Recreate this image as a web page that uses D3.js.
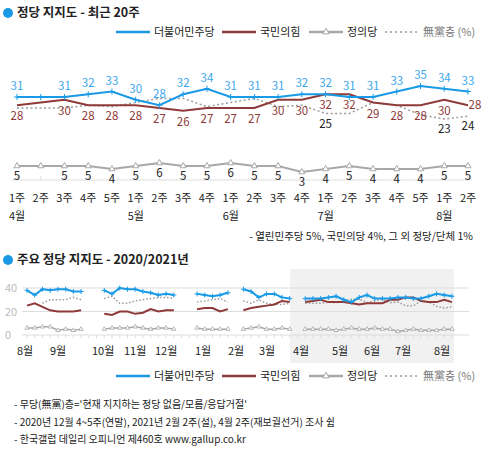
<!DOCTYPE html>
<html><head><meta charset="utf-8">
<script src="https://cdn.jsdelivr.net/npm/d3@7"></script>
<style>
body{margin:0;background:#fff}
text{font-family:"Noto Sans CJK KR","Noto Sans",sans-serif}
</style></head>
<body><svg width="489" height="452"></svg>
<script>
// recent 20 weeks
const weeks = ['1주','2주','3주','4주','5주','1주','2주','3주','4주','1주','2주','3주','4주','1주','2주','3주','4주','5주','1주','2주'];
const months = [{m:'4월',i:0},{m:'5월',i:5},{m:'6월',i:9},{m:'7월',i:13},{m:'8월',i:18}];
const minju = [31,31,31,32,33,30,28,32,34,31,31,31,32,32,31,31,33,35,34,33];
const gukmin = [28,29,30,28,28,28,27,26,27,27,27,30,30,32,32,29,28,28,30,28];
const mudang = [27,27,27,28,27.5,29,30.5,30.5,27.5,29,30.5,27.5,28,25,25,29,28,24.5,23,24];
const jeongui = [5,5,5,5,4,5,6,5,5,6,5,5,3,4,5,4,4,4,5,5];
const minjuLbl = [true,false,true,true,true,true,true,true,true,true,true,true,true,true,true,true,true,true,true,true];
const gukminLbl = [true,false,true,true,true,true,true,true,true,true,true,true,true,true,true,true,true,true,true,true];
const mudangLbl = [13,18,19];
const jeonguiLbl = [true,false,true,true,true,true,true,true,true,true,true,true,true,true,true,true,true,true,true,true];

// 2020/2021 long series (null = no survey)
const N = null;
const minjuLong = [38,34,39,38,39,39,37,37,N,N,38,35,40,39,39,37,36,34,35,34,N,N,35,34,33,34,36,N,39,37,32,35,35,32,31,N].concat(minju);
const gukminLong = [25,27,24,21,20,20,20,21,N,N,18,17,20,20,18,19,22,20,21,21,N,N,22,23,23,20,22,N,21,23,24,25,26,29,28,N].concat(gukmin);
const mudangLong = [N,N,27,30,30,30,32,30,N,N,31,33,27,27,29,30,31,32,32,31,N,N,28,29,30,31,28,N,29,27,30,27,26,26,27,N].concat(mudang);
const jeonguiLong = [6,6,7,7,4,5,4,5,N,N,5,6,6,6,7,6,5,6,6,5,N,N,6,5,5,5,5,N,5,6,7,5,5,6,5,N].concat(jeongui);
const longMonths = [{m:'8월',x:25},{m:'9월',x:58},{m:'10월',x:100},{m:'11월',x:132},{m:'12월',x:163},{m:'1월',x:203},{m:'2월',x:236},{m:'3월',x:267},{m:'4월',x:301},{m:'5월',x:340},{m:'6월',x:372},{m:'7월',x:403},{m:'8월',x:442}];
const yTicks = [0,20,40];

const C = {blue:'#1a9ae6', red:'#8e3a38', gray:'#a8a8a8', dot:'#9a9a9a'};
const svg = d3.select('svg');

function bullet(y, txt){
  svg.append('circle').attr('cx',8).attr('cy',y-4).attr('r',5).attr('fill',C.blue);
  svg.append('text').attr('x',17).attr('y',y).attr('font-size',12.5).attr('font-weight','bold').attr('fill','#222').text(txt);
}
function legend(y, marker){
  const items = [['더불어민주당',C.blue,null,'+'],['국민의힘',C.red,null,null],['정의당',C.gray,null,'tri'],['無黨층 (%)',C.dot,'2,3',null]];
  const xs = marker ? [116,222,309,385] : [120,226,313,390];
  items.forEach((d,i)=>{
    const g = svg.append('g').attr('transform',`translate(${xs[i]},${y})`);
    g.append('line').attr('x1',0).attr('x2',34).attr('stroke',d[1]).attr('stroke-width',d[2]?1.5:2.5).attr('stroke-dasharray',d[2]);
    if(d[3]==='tri') g.append('path').attr('d',d3.symbol(d3.symbolTriangle,18)()).attr('fill','#fff').attr('stroke',d[1]).attr('transform','translate(17,0)');
    g.append('text').attr('x',38).attr('y',4).attr('font-size',11).attr('fill',d[2]?'#777':'#222').text(d[0]);
  });
}

// ---- top chart ----
bullet(17,'정당 지지도 - 최근 20주');
legend(32,true);
const x = d3.scaleLinear().domain([0,19]).range([17,468]);
const y = d3.scaleLinear().domain([23,35]).range([119,86]);
const yj = d3.scaleLinear().domain([3,6]).range([172,163]);
const line = (ys)=>d3.line().x((d,i)=>x(i)).y(d=>ys(d));

svg.append('path').attr('d',line(y)(mudang)).attr('fill','none').attr('stroke',C.dot).attr('stroke-width',1.5).attr('stroke-dasharray','2,2.5');
svg.append('path').attr('d',line(y)(gukmin)).attr('fill','none').attr('stroke',C.red).attr('stroke-width',2);
svg.append('path').attr('d',line(y)(minju)).attr('fill','none').attr('stroke',C.blue).attr('stroke-width',2);
minju.forEach((v,i)=>{
  svg.append('path').attr('d',`M${x(i)-3},${y(v)}h6M${x(i)},${y(v)-3}v6`).attr('stroke',C.blue).attr('stroke-width',1);
});
const lab = (xx,yy,t,c)=>svg.append('text').attr('x',xx).attr('y',yy).attr('text-anchor','middle').attr('font-size',11.5).attr('fill',c).text(t);
minju.forEach((v,i)=>{ if(minjuLbl[i]) lab(x(i),y(v)-7,v,'#3aa6ee'); });
gukmin.forEach((v,i)=>{ if(gukminLbl[i]) lab(x(i)+(i===19?7:0),y(v)+(i===19?4:15),v,C.red); });
mudangLbl.forEach(i=>lab(x(i),y(mudang[i])+14,mudang[i],'#222'));

svg.append('line').attr('x1',12).attr('x2',472).attr('y1',180).attr('y2',180).attr('stroke','#ddd');
weeks.forEach((w,i)=>{
  svg.append('line').attr('x1',x(i)).attr('x2',x(i)).attr('y1',176).attr('y2',180).attr('stroke','#ddd');
  svg.append('text').attr('x',x(i)).attr('y',202).attr('text-anchor','middle').attr('font-size',11).attr('fill','#222').text(w);
});
months.forEach(d=>svg.append('text').attr('x',x(d.i)-8).attr('y',220).attr('font-size',11).attr('fill','#222').text(d.m));
svg.append('path').attr('d',line(yj)(jeongui)).attr('fill','none').attr('stroke',C.gray).attr('stroke-width',2);
jeongui.forEach((v,i)=>{
  svg.append('path').attr('d',d3.symbol(d3.symbolTriangle,16)()).attr('transform',`translate(${x(i)},${yj(v)})`).attr('fill','#fff').attr('stroke',C.gray);
  if(jeonguiLbl[i]) lab(x(i),yj(v)+14,v,'#222');
});
svg.append('text').attr('x',473).attr('y',240).attr('text-anchor','end').attr('font-size',10.5).attr('fill','#222').text('- 열린민주당 5%, 국민의당 4%, 그 외 정당/단체 1%');

// ---- bottom chart ----
bullet(264,'주요 정당 지지도 - 2020/2021년');
const x2 = d3.scaleLinear().domain([0,55]).range([27,452]);
const y2 = d3.scaleLinear().domain([0,40]).range([335,288]);
svg.append('rect').attr('x',290).attr('y',269).attr('width',164).attr('height',94).attr('fill','#f1f1f1');
yTicks.forEach(t=>{
  svg.append('line').attr('x1',22).attr('x2',469).attr('y1',y2(t)).attr('y2',y2(t)).attr('stroke','#ddd');
  svg.append('text').attr('x',5).attr('y',y2(t)+4).attr('font-size',11).attr('fill','#bbb').text(t);
});
for(let i=0;i<=55;i++) svg.append('line').attr('x1',x2(i)).attr('x2',x2(i)).attr('y1',335).attr('y2',338).attr('stroke','#ddd');
const l2 = d3.line().defined(d=>d!==null).x((d,i)=>x2(i)).y(d=>y2(d));
svg.append('path').attr('d',l2(mudangLong)).attr('fill','none').attr('stroke',C.dot).attr('stroke-width',1.5).attr('stroke-dasharray','1.5,2');
svg.append('path').attr('d',l2(jeonguiLong)).attr('fill','none').attr('stroke',C.gray).attr('stroke-width',1.5);
jeonguiLong.forEach((v,i)=>{ if(v!==null) svg.append('path').attr('d',d3.symbol(d3.symbolTriangle,8)()).attr('transform',`translate(${x2(i)},${y2(v)})`).attr('fill','#fff').attr('stroke',C.gray).attr('stroke-width',0.8); });
svg.append('path').attr('d',l2(gukminLong)).attr('fill','none').attr('stroke',C.red).attr('stroke-width',2);
svg.append('path').attr('d',l2(minjuLong)).attr('fill','none').attr('stroke',C.blue).attr('stroke-width',2);
minjuLong.forEach((v,i)=>{ if(v!==null) svg.append('path').attr('d',`M${x2(i)-2.5},${y2(v)}h5M${x2(i)},${y2(v)-2.5}v5`).attr('stroke',C.blue).attr('stroke-width',1); });
longMonths.forEach(d=>svg.append('text').attr('x',d.x-8).attr('y',355).attr('font-size',11).attr('fill','#222').text(d.m));
legend(376,true);
['- 무당(無黨)층=\'현재 지지하는 정당 없음/모름/응답거절\'',
 '- 2020년 12월 4~5주(연말), 2021년 2월 2주(설), 4월 2주(재보궐선거) 조사 쉼',
 '- 한국갤럽 데일리 오피니언 제460호 www.gallup.co.kr'].forEach((t,i)=>
  svg.append('text').attr('x',14).attr('y',408+i*17.5).attr('font-size',10).attr('fill','#222').text(t));
</script></body></html>
